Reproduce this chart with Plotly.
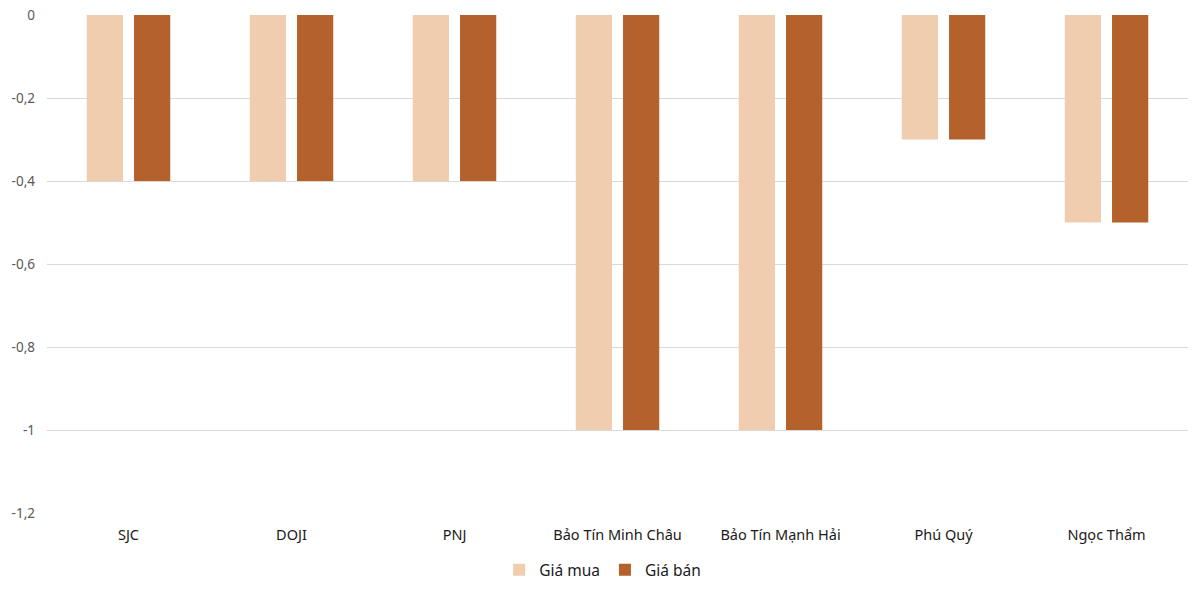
import plotly.graph_objects as go

categories = ["SJC", "DOJI", "PNJ", "Bảo Tín Minh Châu", "Bảo Tín Mạnh Hải", "Phú Quý", "Ngọc Thẩm"]
gia_mua = [-0.4, -0.4, -0.4, -1.0, -1.0, -0.3, -0.5]
gia_ban = [-0.4, -0.4, -0.4, -1.0, -1.0, -0.3, -0.5]
y_tickvals = [0, -0.2, -0.4, -0.6, -0.8, -1.0, -1.2]
y_ticktext = ["0", "-0,2", "-0,4", "-0,6", "-0,8", "-1", "-1,2"]

FONT = "Noto Sans, Open Sans, sans-serif"

fig = go.Figure()
fig.add_trace(go.Bar(name="Giá mua", x=categories, y=gia_mua, marker=dict(color="#F1CDB0", line=dict(width=0))))
fig.add_trace(go.Bar(name="Giá bán", x=categories, y=gia_ban, marker=dict(color="#B5612B", line=dict(width=0))))

fig.update_layout(
    width=1200, height=595,
    margin=dict(l=47, r=12, t=15, b=82, autoexpand=False),
    paper_bgcolor="white", plot_bgcolor="white",
    barmode="group", bargap=0.42, bargroupgap=0.234,
    font=dict(family=FONT, size=14, color="#404040"),
    showlegend=True,
    legend=dict(orientation="h", x=0.487, xanchor="center", y=-0.115, yanchor="middle",
                font=dict(size=15.5, color="#1a1a1a"), itemwidth=30, traceorder="normal"),
)
fig.update_xaxes(showgrid=False, showline=False, zeroline=False, ticks="", automargin=False,
                 tickfont=dict(size=14.5, color="#1a1a1a"), ticklabelstandoff=11)
fig.update_yaxes(range=[-1.2, 0], tickvals=y_tickvals, ticktext=y_ticktext, automargin=False,
                 showgrid=True, gridcolor="#D9D9D9", gridwidth=1,
                 zeroline=False, showline=False, ticks="",
                 tickfont=dict(size=13.5, color="#595959"), ticklabelstandoff=11)

fig.write_html("out.html")
